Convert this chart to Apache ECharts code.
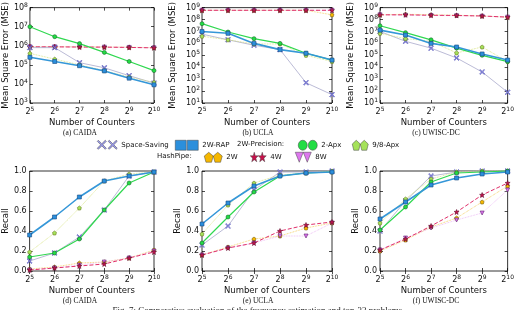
<!DOCTYPE html>
<html><head><meta charset="utf-8">
<script src="https://cdn.jsdelivr.net/npm/echarts@6/dist/echarts.min.js"></script>
<style>html,body{margin:0;padding:0;background:#fff}#c{width:517px;height:310px}</style>
</head><body><div id="c"></div>
<script>
// x values: log2 of number of counters
const counterExp = [5, 6, 7, 8, 9, 10];
const seriesNames = ['Space-Saving', '2W-RAP', '2-Apx', '9/8-Apx', '2W', '4W', '8W'];

// (a) CAIDA MSE
const mseCaida_SS   = [8e5, 8e5, 1.3e5, 7e4, 2.7e4, 1.1e4];
const mseCaida_RAP  = [2.5e5, 1.5e5, 9e4, 4.8e4, 2e4, 9e3];
const mseCaida_2A   = [1e7, 3e6, 1.3e6, 4.5e5, 1.5e5, 5e4];
const mseCaida_98A  = [4e5, 2e5, 1e5, 5e4, 2.3e4, 1.2e4];
const mseCaida_2W   = [9e5, 9e5, 8.8e5, 8.6e5, 8.4e5, 8e5];
const mseCaida_4W   = [8.8e5, 8.8e5, 8.6e5, 8.5e5, 8.2e5, 7.8e5];
const mseCaida_8W   = [8.8e5, 8.8e5, 8.6e5, 8.5e5, 8.2e5, 7.8e5];
// (b) UCLA MSE
const mseUcla_SS    = [6e6, 2e6, 7e5, 3e5, 500, 50];
const mseUcla_RAP   = [1e7, 7e6, 1e6, 3e5, 1.5e5, 4e4];
const mseUcla_2A    = [4.5e7, 9e6, 2.5e6, 1e6, 1.5e5, 4e4];
const mseUcla_98A   = [4e6, 2e6, 9e5, 9e5, 1e5, 3e4];
const mseUcla_2W    = [6e8, 6e8, 6e8, 6e8, 6e8, 2.5e8];
const mseUcla_4W    = [6e8, 6e8, 6e8, 6e8, 6e8, 6e8];
const mseUcla_8W    = [6e8, 6e8, 6e8, 6e8, 6e8, 6e8];
// (c) UWISC-DC MSE
const mseUwisc_SS   = [1e7, 1.5e6, 4e5, 6e4, 4e3, 80];
const mseUwisc_RAP  = [1.3e7, 5e6, 1e6, 5e5, 1.3e5, 4e4];
const mseUwisc_2A   = [3e7, 8e6, 2e6, 4e5, 1e5, 3e4];
const mseUwisc_98A  = [7e6, 2.5e6, 1.5e6, 1.6e5, 5e5, 3e4];
const mseUwisc_2W   = [2.5e8, 2.8e8, 2.5e8, 2.3e8, 2e8, 1.6e8];
const mseUwisc_4W   = [2.5e8, 2.5e8, 2.3e8, 2.2e8, 2e8, 1.6e8];
const mseUwisc_8W   = [2.5e8, 2.3e8, 2.2e8, 2.1e8, 1.9e8, 1.6e8];
// (d) CAIDA Recall
const recCaida_SS   = [0.10, 0.18, 0.34, 0.61, 0.95, 0.99];
const recCaida_RAP  = [0.36, 0.54, 0.74, 0.90, 0.95, 0.99];
const recCaida_2A   = [0.14, 0.18, 0.32, 0.61, 0.88, 0.99];
const recCaida_98A  = [0.19, 0.38, 0.63, 0.90, 0.97, 0.99];
const recCaida_2W   = [0.02, 0.04, 0.08, 0.09, 0.13, 0.21];
const recCaida_4W   = [0.01, 0.03, 0.05, 0.07, 0.13, 0.19];
const recCaida_8W   = [0.01, 0.03, 0.06, 0.09, 0.13, 0.20];
// (e) UCLA Recall
const recUcla_SS    = [0.26, 0.45, 0.81, 0.99, 0.99, 1.00];
const recUcla_RAP   = [0.47, 0.68, 0.85, 0.95, 0.98, 0.99];
const recUcla_2A    = [0.28, 0.54, 0.79, 0.95, 0.98, 0.99];
const recUcla_98A   = [0.37, 0.66, 0.88, 0.96, 0.98, 1.00];
const recUcla_2W    = [0.16, 0.24, 0.32, 0.35, 0.43, 0.48];
const recUcla_4W    = [0.16, 0.23, 0.28, 0.40, 0.46, 0.49];
const recUcla_8W    = [0.16, 0.23, 0.28, 0.35, 0.35, 0.48];
// (f) UWISC-DC Recall
const recUwisc_SS   = [0.40, 0.70, 0.95, 0.99, 1.00, 1.00];
const recUwisc_RAP  = [0.52, 0.69, 0.86, 0.93, 0.97, 0.99];
const recUwisc_2A   = [0.41, 0.64, 0.89, 0.98, 0.99, 1.00];
const recUwisc_98A  = [0.48, 0.72, 0.92, 0.99, 1.00, 1.00];
const recUwisc_2W   = [0.20, 0.31, 0.44, 0.53, 0.69, 0.85];
const recUwisc_4W   = [0.21, 0.32, 0.45, 0.59, 0.76, 0.88];
const recUwisc_8W   = [0.21, 0.33, 0.43, 0.51, 0.58, 0.81];

const panels = [
  {data:[mseCaida_SS,mseCaida_RAP,mseCaida_2A,mseCaida_98A,mseCaida_2W,mseCaida_4W,mseCaida_8W], log:true, min:1e3, max:1e8, caption:'(a) CAIDA'},
  {data:[mseUcla_SS,mseUcla_RAP,mseUcla_2A,mseUcla_98A,mseUcla_2W,mseUcla_4W,mseUcla_8W], log:true, min:1e1, max:1e9, caption:'(b) UCLA'},
  {data:[mseUwisc_SS,mseUwisc_RAP,mseUwisc_2A,mseUwisc_98A,mseUwisc_2W,mseUwisc_4W,mseUwisc_8W], log:true, min:1e1, max:1e9, caption:'(c) UWISC-DC'},
  {data:[recCaida_SS,recCaida_RAP,recCaida_2A,recCaida_98A,recCaida_2W,recCaida_4W,recCaida_8W], log:false, caption:'(d) CAIDA'},
  {data:[recUcla_SS,recUcla_RAP,recUcla_2A,recUcla_98A,recUcla_2W,recUcla_4W,recUcla_8W], log:false, caption:'(e) UCLA'},
  {data:[recUwisc_SS,recUwisc_RAP,recUwisc_2A,recUwisc_98A,recUwisc_2W,recUwisc_4W,recUwisc_8W], log:false, caption:'(f) UWISC-DC'}
];

const P_X = 'path://M0,1.2L1.2,0L5,3.8L8.8,0L10,1.2L6.2,5L10,8.8L8.8,10L5,6.2L1.2,10L0,8.8L3.8,5Z';
const P_STAR = 'path://M5,0L6.2,3.5L10,3.6L7,5.9L8.1,9.5L5,7.4L1.9,9.5L3,5.9L0,3.6L3.8,3.5Z';
const P_PENT = 'path://M5,0L10,3.8L8.1,10L1.9,10L0,3.8Z';
const P_TRI = 'path://M0,0L10,0L5,10Z';

const styles = {
  'Space-Saving': {color:'#9b9bef', line:'#a9a9cc', w:0.8, type:'solid', symbol:P_X, size:5, border:'#4a4ab0'},
  '2W-RAP':       {color:'#2b8fdc', line:'#3597d8', w:1.6, type:'solid', symbol:'rect', size:4, border:'#1a4a80'},
  '2-Apx':        {color:'#22dd44', line:'#30d850', w:1.2, type:'solid', symbol:'circle', size:4, border:'#1a6a2a'},
  '9/8-Apx':      {color:'#a5e25a', line:'#d2e070', w:0.8, type:'dotted', symbol:P_PENT, size:4, border:'#6a7a20'},
  '2W':           {color:'#f5b700', line:'#f2c84a', w:0.8, type:'dotted', symbol:P_PENT, size:4, border:'#7a6010'},
  '4W':           {color:'#c8104a', line:'#e0306a', w:1.0, type:'dashed', symbol:P_STAR, size:5, border:'#601030'},
  '8W':           {color:'#dd77ee', line:'#eab0f2', w:0.8, type:'dotted', symbol:P_TRI, size:4, border:'#602070'}
};
const drawOrder = [4, 6, 5, 0, 3, 2, 1];

const grids = [
  {left:23, top:3, width:131, height:100},
  {left:202, top:4, width:130, height:99},
  {left:380, top:4, width:131, height:99},
  {left:23, top:171, width:131, height:100},
  {left:202, top:171, width:130, height:100},
  {left:380, top:171, width:131, height:100}
];
const yNameGaps = [16, 25, 25, 17, 18, 18];

const FONT = 'DejaVu Sans';
const supRich = {b:{fontSize:8, fontFamily:FONT, color:'#111'}, s:{fontSize:6, fontFamily:FONT, color:'#111', padding:[0,0,5,0]}};
const tickStyle = {show:true, inside:true, length:3, lineStyle:{color:'#000', width:0.7}};

const xAxes = [], yAxes = [];
grids.forEach((g, i) => {
  xAxes.push({
    gridIndex:i, type:'value', min:5, max:10, interval:1, position:'bottom',
    name:'Number of Counters', nameLocation:'middle', nameGap:15,
    nameTextStyle:{fontSize:8.5, fontFamily:FONT, color:'#111'},
    axisLine:{show:false}, splitLine:{show:false}, axisTick:tickStyle,
    axisLabel:{margin:3, formatter:v => '{b|2}{s|' + v + '}', rich:supRich}
  });
  const p = panels[i];
  const base = {
    gridIndex:i, position:'left',
    name: p.log ? 'Mean Square Error (MSE)' : 'Recall',
    nameLocation:'middle', nameGap:yNameGaps[i],
    nameTextStyle:{fontSize:8.5, fontFamily:FONT, color:'#111'},
    axisLine:{show:false}, splitLine:{show:false}, axisTick:tickStyle
  };
  if (p.log) {
    yAxes.push(Object.assign(base, {type:'log', logBase:10, min:p.min, max:p.max, interval:1,
      axisLabel:{margin:2, formatter:v => '{b|10}{s|' + Math.round(Math.log10(v)) + '}', rich:supRich}}));
  } else {
    yAxes.push(Object.assign(base, {type:'value', min:0, max:1, interval:0.2,
      axisLabel:{margin:3, fontSize:8, fontFamily:FONT, color:'#111', formatter:v => v.toFixed(1)}}));
  }
});
// mirrored tick marks on top and right edges
grids.forEach((g, i) => {
  xAxes.push({gridIndex:i, type:'value', min:5, max:10, interval:1, position:'top',
    axisLine:{show:false}, splitLine:{show:false}, axisTick:tickStyle, axisLabel:{show:false}});
  const p = panels[i];
  yAxes.push(p.log
    ? {gridIndex:i, type:'log', logBase:10, min:p.min, max:p.max, interval:1, position:'right',
       axisLine:{show:false}, splitLine:{show:false}, axisTick:tickStyle, axisLabel:{show:false}}
    : {gridIndex:i, type:'value', min:0, max:1, interval:0.2, position:'right',
       axisLine:{show:false}, splitLine:{show:false}, axisTick:tickStyle, axisLabel:{show:false}});
});

const option = {
  animation:false,
  backgroundColor:'#fff',
  grid: grids.map(g => Object.assign({show:true, borderColor:'#000', borderWidth:0.8, containLabel:false}, g)),
  xAxis: xAxes,
  yAxis: yAxes,
  legend: [
    {name:'Space-Saving', left:97, top:140, w:20, icon:'path://M0,1.2L1.2,0L5,3.8L8.8,0L10,1.2L6.2,5L10,8.8L8.8,10L5,6.2L1.2,10L0,8.8L3.8,5ZM12,1.2L13.2,0L17,3.8L20.8,0L22,1.2L18.2,5L22,8.8L20.8,10L17,6.2L13.2,10L12,8.8L15.8,5Z'},
    {name:'2W-RAP', left:175, top:140, w:23, icon:'path://M0,0h11v10h-11zM12,0h11v10h-11z'},
    {name:'2-Apx', left:298, top:140, w:19, icon:'path://M4.5,0A4.5,5,0,1,1,4.5,10A4.5,5,0,1,1,4.5,0ZM14.5,0A4.5,5,0,1,1,14.5,10A4.5,5,0,1,1,14.5,0Z'},
    {name:'9/8-Apx', left:352, top:140, w:16, icon:'path://M4,0L8,3.8L6.5,10L1.5,10L0,3.8ZM12,0L16,3.8L14.5,10L9.5,10L8,3.8Z'},
    {name:'2W', left:204, top:152, w:18, icon:'path://M4.5,0L9,3.8L7.3,10L1.7,10L0,3.8ZM13.5,0L18,3.8L16.3,10L10.7,10L9,3.8Z'},
    {name:'4W', left:250, top:152, w:16, icon:'path://M4,0L5,3.5L8,3.6L5.6,5.9L6.5,9.5L4,7.4L1.5,9.5L2.4,5.9L0,3.6L3,3.5ZM12,0L13,3.5L16,3.6L13.6,5.9L14.5,9.5L12,7.4L9.5,9.5L10.4,5.9L8,3.6L11,3.5Z'},
    {name:'8W', left:295, top:152, w:16, icon:'path://M0,0L8,0L4,10ZM8,0L16,0L12,10Z'}
  ].map(l => ({
    data:[l.name], left:l.left, top:l.top, itemWidth:l.w, itemHeight:10, icon:l.icon,
    padding:0, selectedMode:false,
    itemStyle:{borderWidth:0.5, borderColor:'#444'},
    textStyle:{fontSize:7, fontFamily:FONT, color:'#111', padding:[0,0,0,-1]}
  })),
  graphic: [
    {type:'text', left:237, top:141, style:{text:'2W-Precision:', font:'7px "DejaVu Sans"', fill:'#111'}},
    {type:'text', left:157, top:153, style:{text:'HashPipe:', font:'7px "DejaVu Sans"', fill:'#111'}},
    {type:'text', left:'center', top:306, style:{text:'Fig. 7: Comparative evaluation of the frequency estimation and top-32 problems.', font:'9px "Liberation Serif"', fill:'#222'}}
  ].concat(panels.map((p, i) => ({
    type:'text', x:[80, 258, 436][i % 3], y: i < 3 ? 133 : 301,
    style:{text:p.caption, font:'7.5px "Liberation Serif"', fill:'#111', align:'center', verticalAlign:'middle'}
  }))),
  series: []
};

panels.forEach((p, gi) => {
  drawOrder.forEach(si => {
    const name = seriesNames[si];
    const st = styles[name];
    option.series.push({
      type:'line', name:name, xAxisIndex:gi, yAxisIndex:gi,
      data: counterExp.map((x, k) => [x, p.data[si][k]]),
      symbol: st.symbol, symbolSize: st.size,
      itemStyle:{color:st.color, borderColor:st.border, borderWidth:0.6},
      lineStyle:{color:st.line, width:st.w, type:st.type},
      emphasis:{disabled:true}, silent:true, clip:false
    });
  });
});

const chart = echarts.init(document.getElementById('c'), null, {renderer:'canvas'});
chart.setOption(option);
</script></body></html>
